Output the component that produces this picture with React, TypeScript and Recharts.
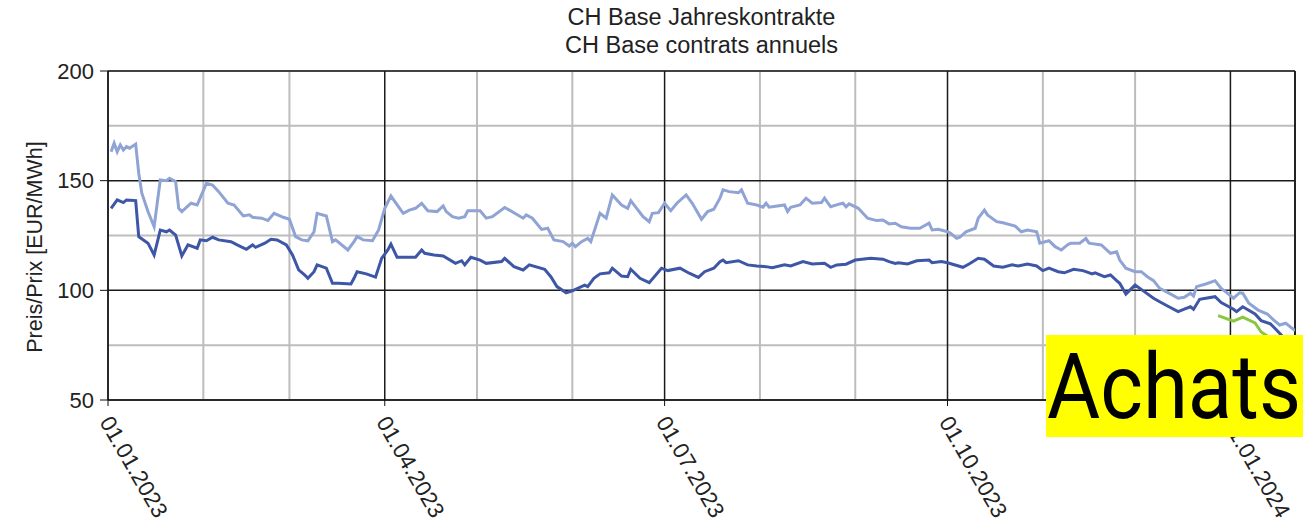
import { LineChart, Line, XAxis, YAxis, CartesianGrid, ReferenceLine } from 'recharts'

// x values are days counted from 01.01.2023
const lightDays = [1, 2, 3, 4, 5, 6, 7, 9, 10, 11, 13, 15, 17, 19, 20, 22, 23, 24, 27, 29, 32, 34, 36, 39, 41, 44, 46, 47, 50, 52, 54, 57, 59, 61, 63, 65, 67, 68, 71, 73, 74, 78, 80, 81, 83, 86, 88, 90, 92, 96, 98, 100, 102, 104, 107, 109, 110, 112, 114, 116, 117, 121, 123, 125, 129, 135, 136, 138, 141, 143, 145, 148, 150, 151, 152, 154, 156, 157, 160, 162, 164, 167, 169, 170, 174, 176, 177, 179, 181, 183, 185, 188, 190, 193, 195, 197, 199, 200, 202, 205, 206, 208, 211, 213, 214, 215, 220, 221, 222, 225, 227, 229, 232, 233, 235, 238, 239, 240, 241, 244, 247, 250, 252, 254, 256, 258, 261, 264, 267, 268, 270, 273, 274, 276, 277, 279, 282, 283, 285, 286, 289, 291, 295, 297, 299, 302, 303, 306, 308, 310, 312, 313, 316, 318, 319, 323, 326, 328, 329, 331, 334, 336, 338, 340, 342, 345, 348, 350, 352, 353, 354, 357, 360, 362, 364, 366, 368, 369, 371, 374, 377, 379, 381, 383, 386]
const lightPrices = [163.2, 167.1, 163.2, 166.3, 164.0, 165.5, 164.8, 166.7, 153.4, 144.3, 135.9, 129.0, 150.3, 150.0, 151.1, 149.5, 137.4, 135.9, 139.7, 138.9, 148.8, 148.0, 145.0, 139.7, 138.9, 133.9, 134.4, 133.3, 132.9, 131.8, 135.1, 133.3, 132.4, 124.5, 123.0, 122.6, 126.7, 135.1, 133.9, 122.2, 123.0, 118.4, 122.2, 124.5, 123.0, 122.6, 127.5, 137.4, 143.0, 135.1, 136.6, 137.4, 139.7, 136.3, 135.9, 138.5, 135.9, 133.6, 132.9, 133.6, 136.3, 136.3, 132.9, 133.6, 137.8, 132.9, 134.4, 132.9, 127.8, 128.3, 123.0, 122.2, 120.2, 121.5, 119.9, 122.2, 123.7, 122.2, 135.1, 132.9, 143.5, 138.9, 137.4, 140.9, 133.6, 131.3, 135.1, 135.4, 139.7, 136.3, 139.7, 143.5, 139.7, 132.4, 135.9, 137.0, 142.0, 145.8, 145.0, 144.5, 145.8, 139.7, 138.9, 137.9, 139.7, 137.9, 138.9, 135.9, 137.9, 138.9, 142.0, 139.7, 140.0, 142.0, 138.1, 139.4, 139.7, 138.1, 139.4, 137.4, 132.9, 131.8, 132.1, 130.3, 130.6, 129.0, 128.3, 128.3, 130.6, 127.5, 127.8, 126.7, 126.0, 123.7, 124.2, 126.7, 128.3, 132.9, 136.6, 134.4, 131.3, 130.8, 129.3, 126.7, 127.5, 126.7, 121.5, 122.6, 119.9, 118.4, 120.7, 121.5, 121.5, 123.7, 121.5, 120.7, 116.9, 117.6, 113.8, 110.1, 108.5, 108.5, 106.2, 104.4, 100.9, 98.7, 96.4, 96.8, 98.7, 97.4, 101.7, 102.9, 104.4, 100.9, 98.7, 96.4, 98.9, 98.7, 94.1, 91.0, 89.2, 86.5, 84.2, 85.0, 81.6]

const darkDays = [1, 3, 5, 6, 9, 10, 13, 15, 17, 19, 20, 22, 24, 26, 29, 30, 32, 34, 36, 40, 42, 45, 47, 48, 51, 53, 55, 58, 60, 62, 64, 65, 67, 68, 71, 73, 75, 79, 80, 81, 84, 87, 89, 91, 92, 94, 97, 100, 102, 103, 106, 109, 113, 115, 116, 118, 121, 123, 128, 129, 132, 135, 137, 142, 144, 146, 149, 151, 155, 156, 158, 160, 163, 164, 167, 169, 170, 173, 176, 180, 182, 186, 189, 192, 194, 197, 199, 200, 201, 205, 208, 211, 214, 216, 220, 222, 226, 229, 233, 235, 237, 240, 243, 248, 252, 254, 256, 257, 260, 263, 267, 268, 271, 273, 278, 280, 283, 285, 288, 291, 294, 296, 299, 302, 304, 306, 309, 311, 314, 317, 318, 320, 321, 324, 326, 328, 329, 331, 334, 337, 340, 342, 345, 348, 350, 352, 353, 355, 357, 360, 362, 366, 367, 369, 373, 375, 378, 380, 382, 385]
const darkPrices = [137.4, 141.2, 140.0, 141.2, 140.9, 124.5, 121.5, 116.1, 127.5, 126.7, 127.5, 125.2, 115.7, 120.7, 119.2, 123.0, 122.6, 124.2, 123.0, 122.2, 120.7, 118.7, 120.7, 119.6, 121.5, 123.3, 123.0, 120.7, 116.1, 109.3, 107.0, 105.5, 108.5, 111.6, 110.1, 103.2, 103.2, 102.9, 105.5, 108.5, 107.5, 106.0, 114.6, 118.4, 121.1, 115.1, 115.1, 115.1, 118.4, 116.9, 116.1, 115.7, 112.3, 113.5, 111.6, 115.1, 113.8, 112.3, 113.1, 114.6, 110.8, 109.3, 111.6, 109.6, 106.2, 101.7, 98.9, 99.8, 102.4, 101.7, 105.5, 107.5, 108.0, 110.1, 106.5, 106.2, 109.6, 105.5, 103.5, 110.1, 109.0, 110.1, 107.8, 105.9, 108.5, 110.1, 113.1, 113.8, 112.6, 113.5, 111.6, 111.1, 110.8, 110.3, 111.6, 111.1, 113.1, 112.0, 112.3, 110.5, 111.6, 111.9, 113.8, 114.6, 114.2, 113.1, 112.3, 112.6, 112.0, 113.5, 113.8, 112.6, 113.1, 112.6, 110.5, 112.0, 114.6, 114.2, 111.1, 110.5, 111.6, 111.1, 112.0, 111.1, 109.0, 110.1, 108.5, 108.0, 109.6, 109.0, 108.5, 107.5, 108.0, 106.2, 107.0, 104.4, 103.2, 98.3, 102.4, 99.4, 96.4, 94.8, 92.5, 90.3, 91.4, 92.5, 91.4, 95.9, 96.4, 97.1, 94.4, 91.4, 90.3, 92.5, 89.2, 86.2, 84.7, 81.9, 78.9, 77.5]

const greenDays = [361, 366, 369, 373, 375, 378]
const greenPrices = [88.5, 86.0, 87.8, 85.1, 81.0, 78.3]

const majorDays = [0, 90, 181, 273, 365]
const majorLabels = ['01.01.2023', '01.04.2023', '01.07.2023', '01.10.2023', '01.01.2024']
const minorDays = [31, 59, 120, 151, 212, 243, 304, 334]
const majorPrices = [50, 100, 150, 200]
const minorPrices = [75, 125, 175]
const lastDay = 386

const toPoints = (days: number[], prices: number[]) =>
  days.map((day, i) => ({ day, price: prices[i] }))

const light = toPoints(lightDays, lightPrices)
const dark = toPoints(darkDays, darkPrices)
const green = toPoints(greenDays, greenPrices)

const font = '"Liberation Sans", Arial, sans-serif'

function DateTick(props: any) {
  const { x, y, payload } = props
  const label = majorLabels[majorDays.indexOf(payload.value)]
  const tx = x - 9
  const ty = y + 14
  return (
    <text
      x={tx}
      y={ty}
      transform={`rotate(60 ${tx} ${ty})`}
      textAnchor="start"
      fontSize={22.5}
      fontFamily={font}
      fill="#222"
    >
      {label}
    </text>
  )
}

const noTick = () => <g />

export default function App() {
  return (
    <div
      style={{
        position: 'absolute',
        left: 0,
        top: 0,
        width: 1310,
        height: 529,
        background: '#fff',
        fontFamily: font,
        color: '#222',
        overflow: 'hidden',
      }}
    >
      <div style={{ position: 'absolute', left: 108, width: 1187, top: 3, textAlign: 'center', fontSize: 23.5, lineHeight: '28px' }}>
        CH Base Jahreskontrakte
        <br />
        CH Base contrats annuels
      </div>
      <div
        style={{
          position: 'absolute',
          left: 35,
          top: 247,
          fontSize: 21.5,
          whiteSpace: 'nowrap',
          transform: 'translate(-50%, -50%) rotate(-90deg)',
        }}
      >
        Preis/Prix [EUR/MWh]
      </div>

      <LineChart width={1310} height={529} margin={{ top: 71, right: 15, bottom: 19, left: 48 }}>
        <XAxis
          xAxisId="minor"
          type="number"
          dataKey="day"
          domain={[0, lastDay]}
          allowDataOverflow
          ticks={minorDays}
          interval={0}
          height={0}
          axisLine={false}
          tickLine={false}
          tick={noTick}
        />
        <YAxis
          yAxisId="minor"
          type="number"
          domain={[50, 200]}
          allowDataOverflow
          ticks={minorPrices}
          interval={0}
          width={0}
          axisLine={false}
          tickSize={4}
          stroke="#111"
          tick={noTick}
        />
        <XAxis
          xAxisId="major"
          type="number"
          dataKey="day"
          domain={[0, lastDay]}
          allowDataOverflow
          ticks={majorDays}
          interval={0}
          height={110}
          tickSize={6}
          stroke="#111"
          tick={<DateTick />}
        />
        <YAxis
          yAxisId="major"
          type="number"
          domain={[50, 200]}
          allowDataOverflow
          ticks={majorPrices}
          interval={0}
          width={60}
          tickSize={8}
          tickMargin={6}
          stroke="#111"
          tick={{ fontSize: 22, fontFamily: font, fill: '#222' }}
        />
        <CartesianGrid xAxisId="minor" yAxisId="minor" stroke="#bdbdbd" strokeWidth={2} />
        <CartesianGrid xAxisId="major" yAxisId="major" stroke="#1a1a1a" strokeWidth={1.5} />
        <ReferenceLine xAxisId="major" yAxisId="major" x={lastDay} stroke="#1a1a1a" strokeWidth={1.5} />
        <Line
          xAxisId="minor"
          yAxisId="minor"
          data={light}
          dataKey="price"
          stroke="none"
          dot={false}
          activeDot={false}
          legendType="none"
          isAnimationActive={false}
        />
        <Line
          xAxisId="major"
          yAxisId="major"
          data={light}
          dataKey="price"
          type="linear"
          stroke="#8fa3d5"
          strokeWidth={3}
          dot={false}
          isAnimationActive={false}
        />
        <Line
          xAxisId="major"
          yAxisId="major"
          data={dark}
          dataKey="price"
          type="linear"
          stroke="#3d56a6"
          strokeWidth={3}
          dot={false}
          isAnimationActive={false}
        />
        <Line
          xAxisId="major"
          yAxisId="major"
          data={green}
          dataKey="price"
          type="linear"
          stroke="#8cc63f"
          strokeWidth={3}
          dot={false}
          isAnimationActive={false}
        />
      </LineChart>

      <svg
        width={257}
        height={102}
        style={{ position: 'absolute', left: 1046, top: 335, background: '#ffff00' }}
      >
        <text
          x={1}
          y={83}
          textLength={254}
          lengthAdjust="spacingAndGlyphs"
          fontFamily="Roboto, sans-serif"
          fontSize={91}
          fill="#000"
        >
          Achats
        </text>
      </svg>
    </div>
  )
}
